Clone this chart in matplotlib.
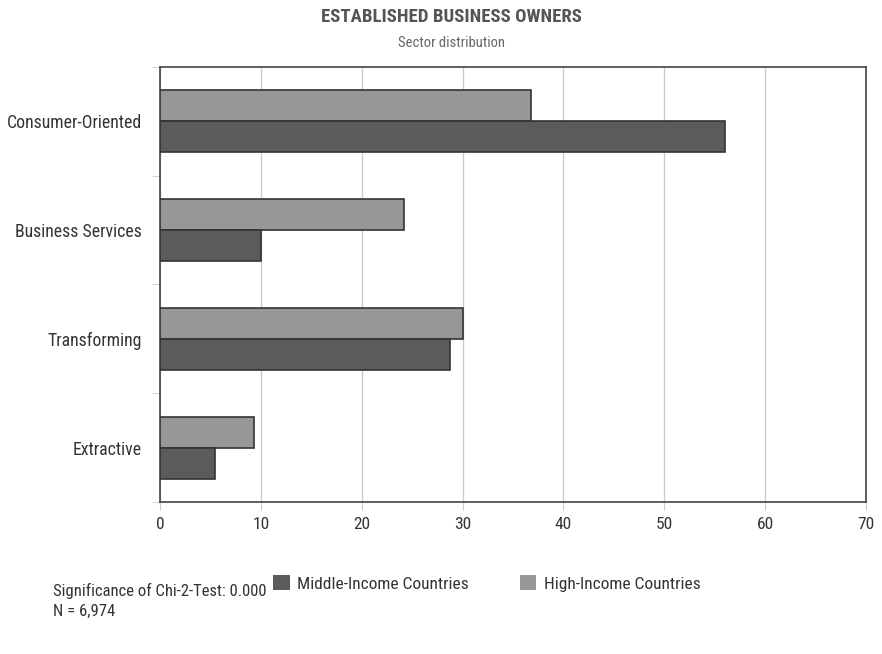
import matplotlib.pyplot as plt
import numpy as np

plt.rcParams['font.family'] = ['Roboto Condensed', 'DejaVu Sans']

# sector data (percent)
sectors = ["Consumer-Oriented", "Business Services", "Transforming", "Extractive"]
middle_income = [56.0, 10.0, 28.8, 5.5]
high_income = [36.8, 24.2, 30.0, 9.3]
xticks = [0, 10, 20, 30, 40, 50, 60, 70]

dark = "#5b5b5b"
light = "#979797"
txt = "#333333"

fig = plt.figure(figsize=(8.82, 6.54), dpi=100)
ax = fig.add_axes([0.1814, 0.2324, 0.8005, 0.6652])

y = np.arange(len(sectors))[::-1]
h = 0.285
ax.barh(y + h/2, high_income, height=h, color=light, edgecolor="#333333", linewidth=1.2, label="High-Income Countries", zorder=3)
ax.barh(y - h/2, middle_income, height=h, color=dark, edgecolor="#333333", linewidth=1.2, label="Middle-Income Countries", zorder=3)

ax.set_xlim(0, 70)
ax.set_ylim(-0.5, len(sectors) - 0.5)
ax.set_xticks(xticks)
ax.set_xticklabels([str(t) for t in xticks], fontsize=12.5, color=txt)
ax.set_yticks(y)
ax.set_yticklabels(sectors, fontsize=12.8, color=txt)
ax.tick_params(axis='y', length=0, pad=13)
ax.tick_params(axis='x', length=6, color="#cccccc", pad=5)
# small ticks between categories
ax.set_yticks(np.arange(-0.5, len(sectors), 1), minor=True)
ax.tick_params(axis='y', which='minor', length=6, color="#cccccc")
ax.grid(axis='x', color="#cccccc", linewidth=1, zorder=0)

for s in ax.spines.values():
    s.set_color("#444444")
    s.set_linewidth(1.2)

fig.text(0.512, 0.974, "ESTABLISHED BUSINESS OWNERS", ha="center", va="center", fontsize=13.5, fontweight="bold", color="#555555")
fig.text(0.512, 0.934, "Sector distribution", ha="center", va="center", fontsize=10.5, color="#666666")

handles, labels = ax.get_legend_handles_labels()
fig.legend(handles[::-1], labels[::-1], loc="center", bbox_to_anchor=(0.552, 0.108), ncol=2, frameon=False,
           fontsize=12.5, handlelength=0.95, handleheight=0.95, columnspacing=2.9, handletextpad=0.45,
           labelcolor=txt)
for p in fig.legends[0].get_patches():
    p.set_edgecolor("none")

fig.text(0.06, 0.096, "Significance of Chi-2-Test: 0.000", ha="left", va="center", fontsize=12, color=txt)
fig.text(0.06, 0.066, "N = 6,974", ha="left", va="center", fontsize=12, color=txt)

fig.savefig("out.png", dpi=100)
